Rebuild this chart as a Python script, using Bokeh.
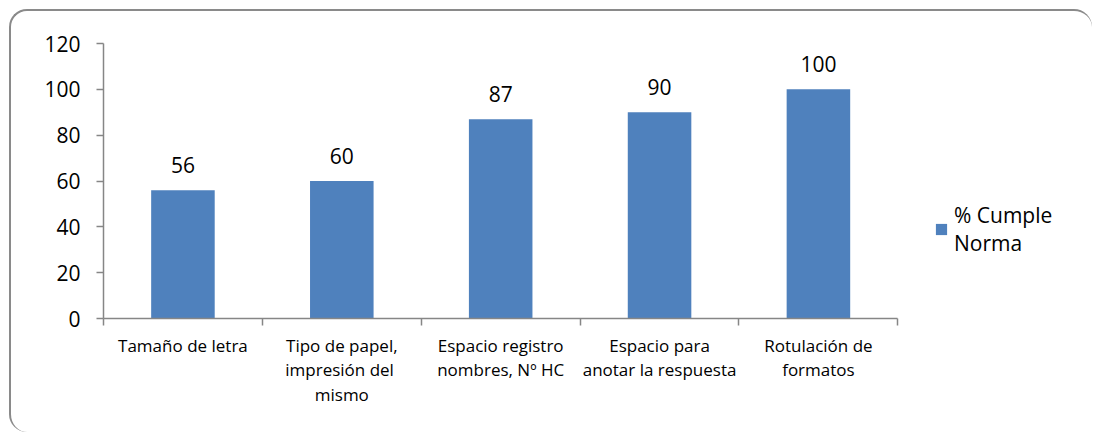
from bokeh.plotting import figure
from bokeh.models import (ColumnDataSource, Range1d, FixedTicker, LinearAxis,
                          LabelSet, Legend, LegendItem)
from bokeh.core.properties import value
from bokeh.embed import file_html
from bokeh.resources import INLINE

categories = ["Tamaño de letra",
              "Tipo de papel,\nimpresión  del\nmismo",
              "Espacio registro\nnombres, Nº HC",
              "Espacio para\nanotar la respuesta",
              "Rotulación de\nformatos"]
values = [56, 60, 87, 90, 100]
series_name = "% Cumple\nNorma"
y_ticks = [0, 20, 40, 60, 80, 100, 120]

FONT = "Open Sans"
BAR = "#4F81BD"
AXIS = "#868686"

n = len(categories)
centers = [i + 0.5 for i in range(n)]
bounds = [float(i) for i in range(n + 1)]

src = ColumnDataSource(dict(x=centers, top=values, lab=[str(v) for v in values]))

# frame extends past the last category so the legend sits inside it;
# the x axis itself is bounded to the categories
p = figure(width=1083, height=423, output_backend="svg", toolbar_location=None,
           x_range=Range1d(0, 6.2), y_range=Range1d(0, 120),
           x_axis_location=None, y_axis_location=None,
           min_border_left=92, min_border_right=6,
           min_border_top=32, min_border_bottom=116)
p.styles = {"margin-left": "9px", "margin-top": "9px",
            "border-top": "2px solid #8a8a8a", "border-left": "2px solid #8a8a8a",
            "border-right": "0px solid #8a8a8a", "border-bottom": "0px solid #8a8a8a",
            "border-radius": "18px"}
p.border_fill_color = None
p.background_fill_color = None
p.outline_line_color = None
p.grid.visible = False

bars = p.vbar(x="x", top="top", width=0.4, bottom=0, source=src,
              fill_color=BAR, line_color=None)

yaxis = LinearAxis(ticker=FixedTicker(ticks=y_ticks))
yaxis.axis_line_color = AXIS
yaxis.axis_line_width = 1.5
yaxis.major_tick_line_color = AXIS
yaxis.major_tick_line_width = 1.5
yaxis.major_tick_out = 7
yaxis.major_tick_in = 0
yaxis.minor_tick_line_color = None
yaxis.major_label_text_font = FONT
yaxis.major_label_text_font_size = "21px"
yaxis.major_label_text_color = "#000000"
yaxis.major_label_standoff = 16
p.add_layout(yaxis, "left")

xaxis = LinearAxis(ticker=FixedTicker(ticks=centers, minor_ticks=bounds),
                   bounds=(0, n))
xaxis.major_label_overrides = {c: lab for c, lab in zip(centers, categories)}
xaxis.axis_line_color = AXIS
xaxis.axis_line_width = 1.5
xaxis.major_tick_line_color = None
xaxis.major_tick_out = 0
xaxis.major_tick_in = 0
xaxis.minor_tick_line_color = AXIS
xaxis.minor_tick_line_width = 1.5
xaxis.minor_tick_out = 7
xaxis.minor_tick_in = 0
xaxis.major_label_text_font = FONT
xaxis.major_label_text_font_size = "17px"
xaxis.major_label_text_color = "#000000"
xaxis.major_label_text_line_height = 1.08
xaxis.major_label_standoff = 8
p.add_layout(xaxis, "below")

labels = LabelSet(x="x", y="top", text="lab", source=src, y_offset=17,
                  text_align="center", text_baseline="alphabetic",
                  text_font=value(FONT), text_font_size="21px", text_color="#000000")
p.add_layout(labels)

legend = Legend(items=[LegendItem(label=series_name, renderers=[bars])],
                location=(831, 61), padding=0, margin=0,
                glyph_width=14, glyph_height=14, label_standoff=6,
                label_text_font=FONT, label_text_font_size="21px",
                label_text_color="#000000",
                border_line_color=None, background_fill_color=None)
p.add_layout(legend)

open("out.html", "w").write(file_html(p, INLINE))
